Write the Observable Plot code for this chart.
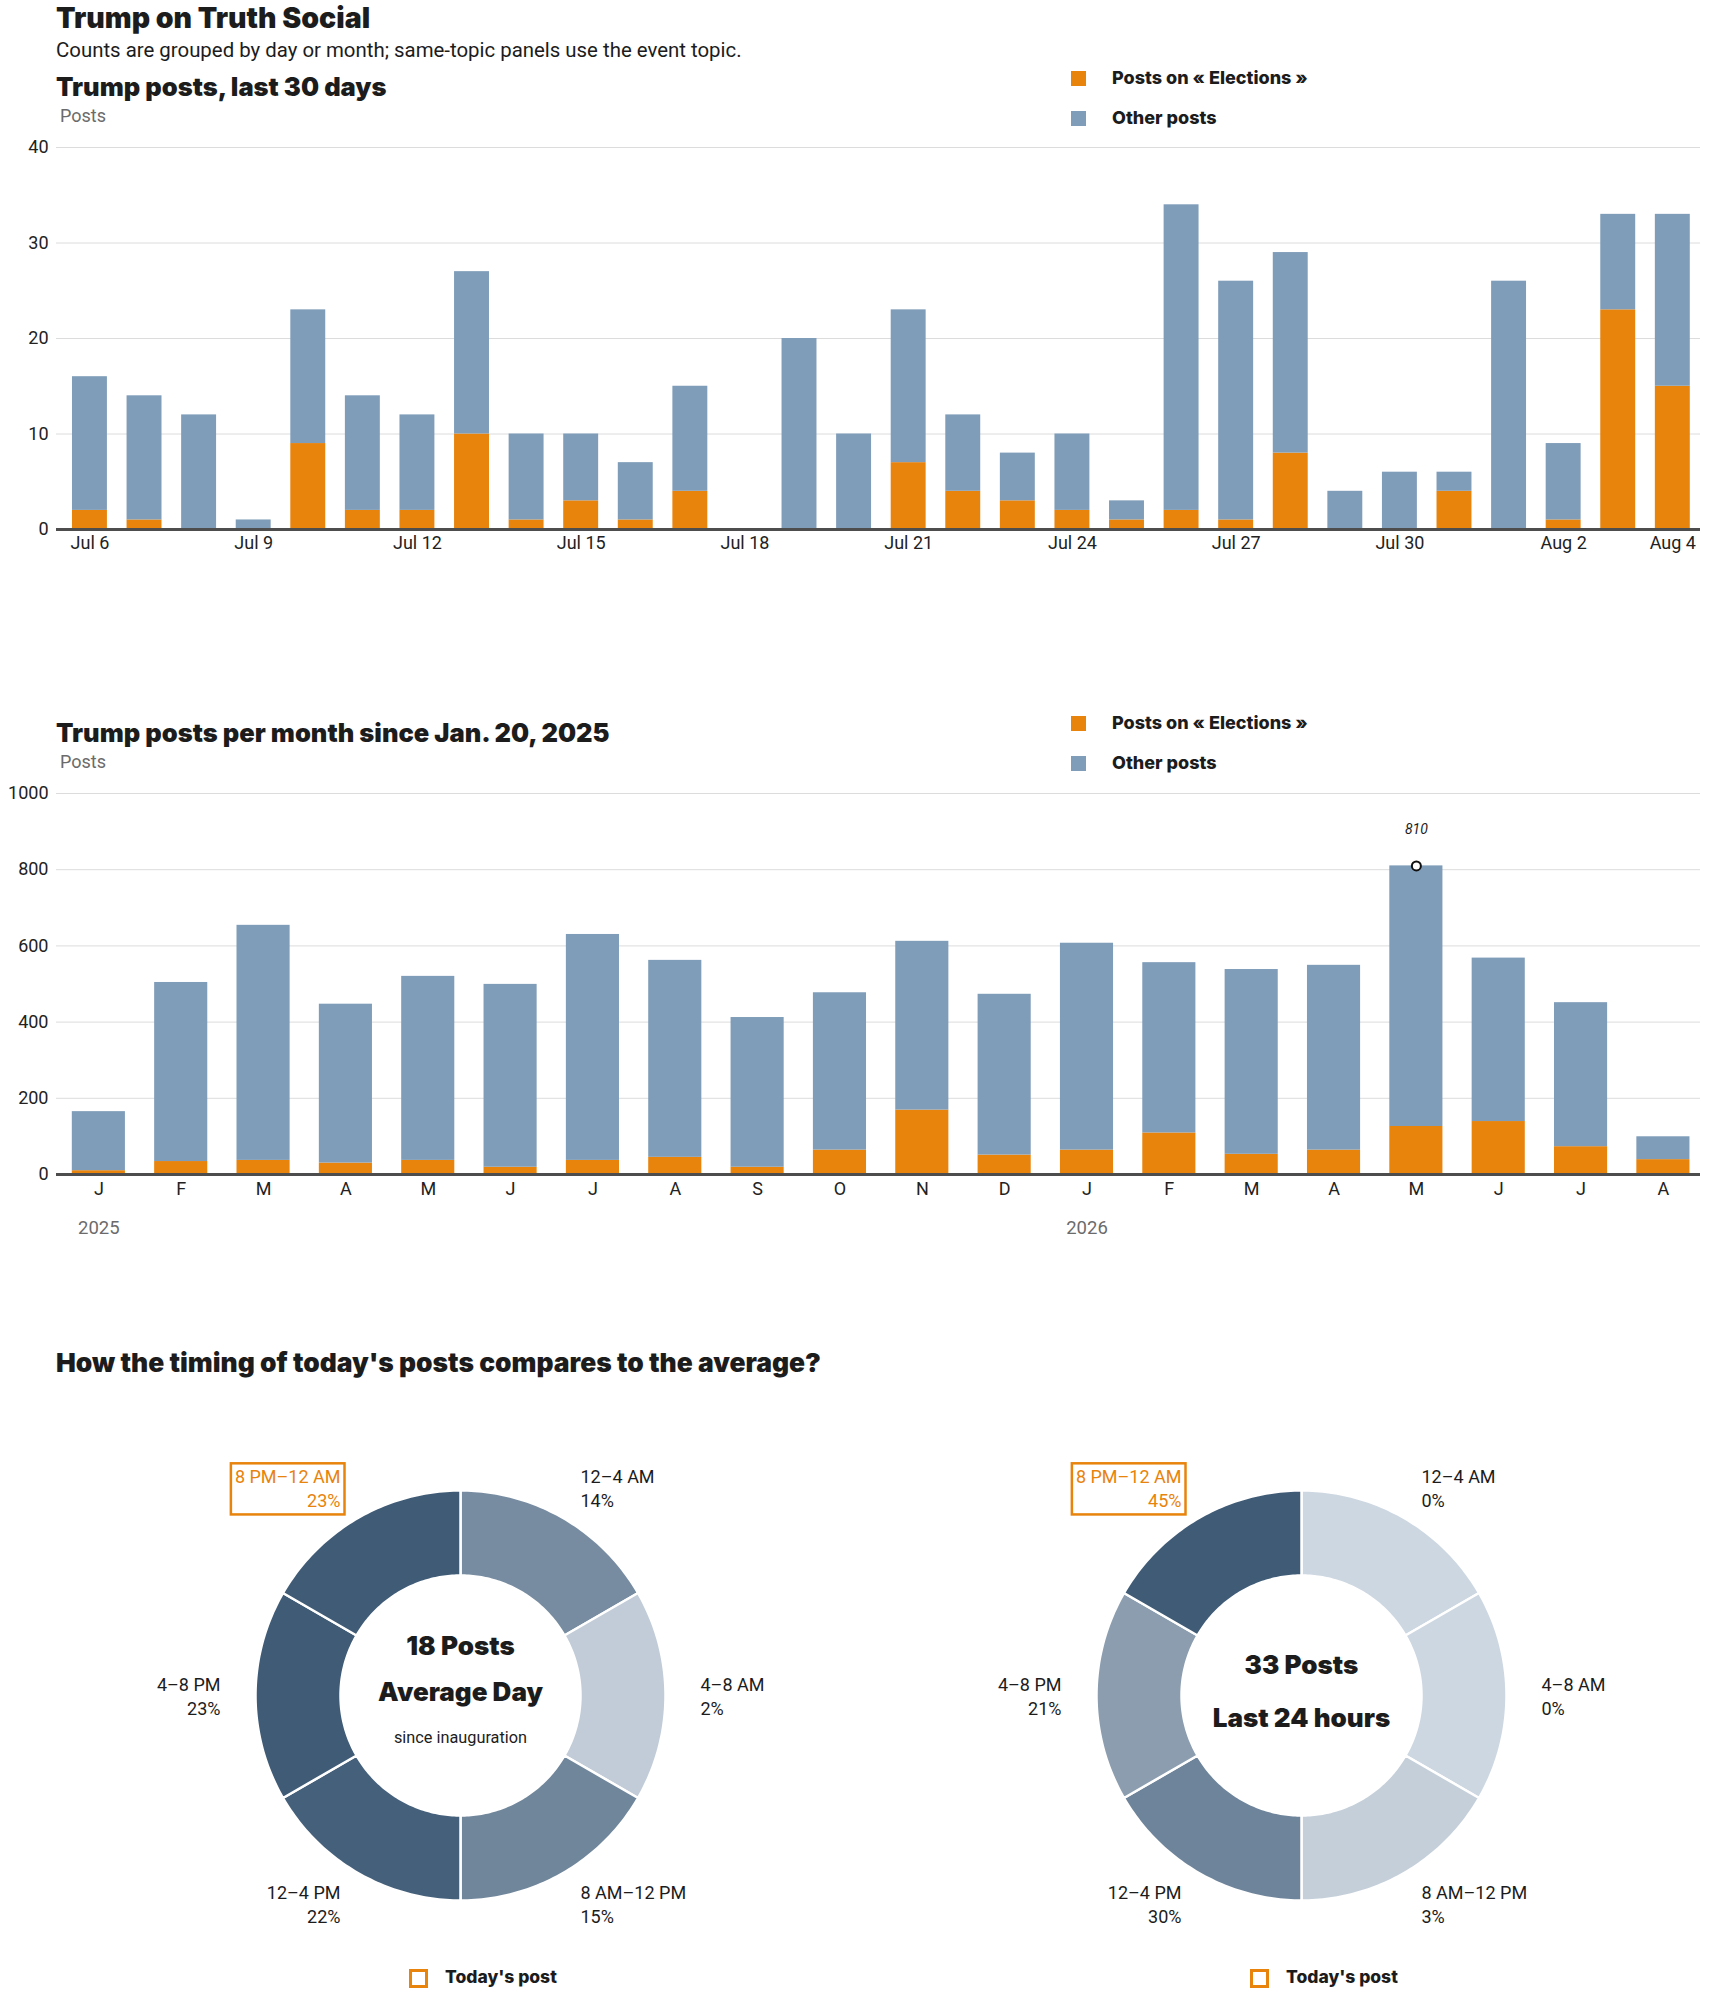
<!DOCTYPE html>
<html>
<head>
<meta charset="utf-8">
<script src="https://cdn.jsdelivr.net/npm/d3@7"></script>
<script src="https://cdn.jsdelivr.net/npm/@observablehq/plot@0.6"></script>
<style>
  body { margin: 0; background: #fff; font-family: Roboto, "Noto Sans", sans-serif; color: #1c1c1c; }
  #page { position: relative; width: 1710px; height: 1993px; overflow: hidden; background: #fff; }
  .abs { position: absolute; white-space: nowrap; }
  .sw { position: absolute; width: 15px; height: 15px; }
  .hollow { position: absolute; width: 19px; height: 19px; box-sizing: border-box; border: 3px solid #e8830c; }
  svg { position: absolute; left: 0; }
</style>
</head>
<body>
<div id="page"></div>
<script>
// ---------------- DATA ----------------
const SERIES = ["Posts on « Elections »", "Other posts"];

const days = ["Jul 6","Jul 7","Jul 8","Jul 9","Jul 10","Jul 11","Jul 12","Jul 13","Jul 14","Jul 15",
  "Jul 16","Jul 17","Jul 18","Jul 19","Jul 20","Jul 21","Jul 22","Jul 23","Jul 24","Jul 25",
  "Jul 26","Jul 27","Jul 28","Jul 29","Jul 30","Jul 31","Aug 1","Aug 2","Aug 3","Aug 4"];
const dayElection = [2,1,0,0,9,2,2,10,1,3, 1,4,0,0,0,7,4,3,2,1, 2,1,8,0,0,4,0,1,23,15];
const dayOther    = [14,13,12,1,14,12,10,17,9,7, 6,11,0,20,10,16,8,5,8,2, 32,25,21,4,6,2,26,8,10,18];
const dayTicks = ["Jul 6","Jul 9","Jul 12","Jul 15","Jul 18","Jul 21","Jul 24","Jul 27","Jul 30","Aug 2","Aug 4"];
const dayYTicks = [0,10,20,30,40];

const months = ["Jan 2025","Feb 2025","Mar 2025","Apr 2025","May 2025","Jun 2025","Jul 2025","Aug 2025",
  "Sep 2025","Oct 2025","Nov 2025","Dec 2025","Jan 2026","Feb 2026","Mar 2026","Apr 2026","May 2026",
  "Jun 2026","Jul 2026","Aug 2026"];
const monthElection = [10,34,37,30,37,19,37,45,19,64,169,51,64,109,53,64,126,139,73,39];
const monthOther    = [155,470,617,417,483,480,593,517,393,413,443,422,543,447,485,485,684,429,378,60];
const monthYTicks = [0,200,400,600,800,1000];

const timeSlots  = ["12–4 AM","4–8 AM","8 AM–12 PM","12–4 PM","4–8 PM","8 PM–12 AM"];
const avgShare   = [14,2,15,22,23,23];
const todayShare = [0,0,3,30,21,45];
const todaySlot  = "8 PM–12 AM";
const avgCenter   = ["18 Posts","Average Day"];
const avgNote     = "since inauguration";
const todayCenter = ["33 Posts","Last 24 hours"];

// ---------------- STYLE ----------------
const ORANGE = "#e8830c", BLUE = "#7f9db9", DARK = "#1c1c1c", GRAY = "#6b6b6b", GRID = "#dcdcdc";
const REG = "Roboto, 'Noto Sans', sans-serif";
const HEAVY = "Inter, Roboto, sans-serif";
const page = document.getElementById("page");
const ctx = document.createElement("canvas").getContext("2d");

function txt(str, x, baseline, size, weight, color, family = REG) {
  const font = `${weight} ${size}px ${family}`;
  ctx.font = font;
  const m = ctx.measureText(str);
  const asc = m.fontBoundingBoxAscent || size * 0.93, desc = m.fontBoundingBoxDescent || size * 0.25;
  const d = document.createElement("div");
  d.className = "abs";
  d.textContent = str;
  Object.assign(d.style, {
    left: x + "px", top: Math.max(0, baseline - asc) + "px", font: font, lineHeight: (asc + desc) + "px", color: color
  });
  page.appendChild(d);
  return d;
}
function swatch(x, y, color) {
  const s = document.createElement("div");
  s.className = "sw";
  Object.assign(s.style, {left: x + "px", top: y + "px", background: color});
  page.appendChild(s);
}
function legend(y0) {
  swatch(1071, y0, ORANGE);
  txt(SERIES[0], 1112, y0 + 13, 18, 800, DARK, HEAVY);
  swatch(1071, y0 + 40, BLUE);
  txt(SERIES[1], 1112, y0 + 53, 18, 800, DARK, HEAVY);
}
function place(svg, top) { svg.style.top = top + "px"; page.appendChild(svg); return svg; }

const baseStyle = {fontFamily: REG, fontSize: "18px", color: DARK, background: "transparent", overflow: "visible"};

// ---------------- HEADER ----------------
txt("Trump on Truth Social", 56, 28, 28.5, 900, DARK, HEAVY);
txt("Counts are grouped by day or month; same-topic panels use the event topic.", 56, 57, 20.4, 400, DARK);

// ---------------- PANEL 1 ----------------
txt("Trump posts, last 30 days", 56, 96, 25.5, 900, DARK, HEAVY);
txt("Posts", 60, 122, 18, 400, GRAY);
legend(71);

const data30 = days.flatMap((d, i) => [
  {day: d, series: SERIES[0], value: dayElection[i]},
  {day: d, series: SERIES[1], value: dayOther[i]}
]);

place(Plot.plot({
  width: 1710, height: 430, marginTop: 17, marginBottom: 31, marginLeft: 56, marginRight: 10,
  style: baseStyle,
  x: {type: "band", domain: days, range: [56, 1700], paddingInner: 0.36, paddingOuter: 0.24, align: 0.61, round: false, label: null},
  y: {domain: [0, 40], label: null},
  color: {domain: SERIES, range: [ORANGE, BLUE]},
  marks: [
    Plot.gridY(dayYTicks.slice(1), {stroke: GRID, strokeOpacity: 1}),
    Plot.axisY({ticks: dayYTicks, tickSize: 0, tickPadding: 8, label: null, fontSize: 18, fill: "#222"}),
    Plot.axisX({ticks: dayTicks, tickSize: 0, tickPadding: 7, label: null, fontSize: 18, fill: "#222"}),
    Plot.barY(data30, {x: "day", y: "value", fill: "series"}),
    Plot.ruleY([0], {stroke: "#4d4d4d", strokeWidth: 3})
  ]
}), 130);

// ---------------- PANEL 2 ----------------
txt("Trump posts per month since Jan. 20, 2025", 56, 742, 25.5, 900, DARK, HEAVY);
txt("Posts", 60, 768, 18, 400, GRAY);
legend(716);

const dataM = months.flatMap((m, i) => [
  {month: m, series: SERIES[0], value: monthElection[i]},
  {month: m, series: SERIES[1], value: monthOther[i]}
]);
const totals = months.map((m, i) => ({month: m, total: monthElection[i] + monthOther[i]}));
const peak = [totals.reduce((a, b) => (b.total > a.total ? b : a))];
const yearStarts = months.filter(m => m.startsWith("Jan")).map(m => ({month: m, year: m.slice(4)}));

place(Plot.plot({
  width: 1710, height: 470, marginTop: 13, marginBottom: 76, marginLeft: 56, marginRight: 10,
  style: baseStyle,
  x: {type: "band", domain: months, range: [56, 1700], paddingInner: 0.355, paddingOuter: 0.16, align: 0.6, round: false, label: null},
  y: {domain: [0, 1000], label: null},
  color: {domain: SERIES, range: [ORANGE, BLUE]},
  marks: [
    Plot.gridY(monthYTicks.slice(1), {stroke: GRID, strokeOpacity: 1}),
    Plot.axisY({ticks: monthYTicks, tickFormat: d => String(d), tickSize: 0, tickPadding: 8, label: null, fontSize: 18, fill: "#222"}),
    Plot.axisX({tickSize: 0, tickPadding: 8, label: null, fontSize: 18, fill: "#222", tickFormat: d => d[0]}),
    Plot.barY(dataM, {x: "month", y: "value", fill: "series"}),
    Plot.ruleY([0], {stroke: "#4d4d4d", strokeWidth: 3}),
    Plot.text(yearStarts, {x: "month", frameAnchor: "bottom", text: "year", dy: 59, lineAnchor: "bottom", fontSize: 18.5, fill: GRAY}),
    Plot.dot(peak, {x: "month", y: "total", r: 4.5, stroke: "#111", strokeWidth: 2, fill: "white"}),
    Plot.text(peak, {x: "month", y: "total", text: d => String(d.total), dy: -36, fontSize: 14, fontStyle: "italic", fill: DARK})
  ]
}), 780);

// ---------------- PANEL 3: DONUTS ----------------
txt("How the timing of today's posts compares to the average?", 56, 1372, 26.4, 900, DARK, HEAVY);

const W = 1710, H = 613, CY = 315, R0 = 120, R1 = 205, RL = 240, N = 60;
const donuts = [
  {id: "avg", cx: 460, shares: avgShare},
  {id: "today", cx: 1301, shares: todayShare}
];
const ring = [], labels = [];
donuts.forEach(dn => {
  const mx = d3.max(dn.shares);
  timeSlots.forEach((slot, i) => {
    const a0 = i * Math.PI / 3, a1 = (i + 1) * Math.PI / 3;
    const t = mx ? dn.shares[i] / mx : 0;
    const key = dn.id + "-" + i;
    for (let k = 0; k <= N; k++) {
      const a = a0 + (a1 - a0) * k / N;
      ring.push({key, t, x: dn.cx + R1 * Math.sin(a), y: CY - R1 * Math.cos(a)});
    }
    for (let k = N; k >= 0; k--) {
      const a = a0 + (a1 - a0) * k / N;
      ring.push({key, t, x: dn.cx + R0 * Math.sin(a), y: CY - R0 * Math.cos(a)});
    }
    const am = (i + 0.5) * Math.PI / 3;
    labels.push({
      x: dn.cx + RL * Math.sin(am), y: CY - RL * Math.cos(am),
      text: slot + "\n" + dn.shares[i] + "%",
      side: Math.sin(am) > 0 ? "right" : "left",
      hl: slot === todaySlot
    });
  });
});
const centerBold = [
  {x: donuts[0].cx, y: CY - 49, text: avgCenter[0]},
  {x: donuts[0].cx, y: CY - 3, text: avgCenter[1]},
  {x: donuts[1].cx, y: CY - 30, text: todayCenter[0]},
  {x: donuts[1].cx, y: CY + 23, text: todayCenter[1]}
];
const centerNote = [{x: donuts[0].cx, y: CY + 42, text: avgNote}];

const labelOpts = {x: "x", y: "y", text: "text", lineAnchor: "middle", lineHeight: 1.34, fontSize: 18};
const donutSvg = place(Plot.plot({
  width: W, height: H, margin: 0,
  style: baseStyle,
  x: {domain: [0, W], range: [0, W], axis: null},
  y: {domain: [0, H], range: [0, H], axis: null},
  color: {type: "linear", domain: [0, 1], range: ["#cdd7e1", "#3f5b76"], interpolate: "rgb"},
  marks: [
    Plot.line(ring, {x: "x", y: "y", z: "key", fill: "t", stroke: "white", strokeWidth: 2.5, curve: "linear-closed"}),
    Plot.text(labels.filter(d => d.side === "right"), {...labelOpts, textAnchor: "start", fill: DARK}),
    Plot.text(labels.filter(d => d.side === "left" && !d.hl), {...labelOpts, textAnchor: "end", fill: DARK}),
    Plot.text(labels.filter(d => d.hl), {...labelOpts, textAnchor: "end", fill: ORANGE}),
    Plot.text(centerBold, {x: "x", y: "y", text: "text", fontSize: 26, fontWeight: 900, fontFamily: HEAVY, fill: DARK}),
    Plot.text(centerNote, {x: "x", y: "y", text: "text", fontSize: 16.3, fill: DARK})
  ]
}), 1380);

// orange frame around the highlighted label (measured from the rendered text)
const svgBox = donutSvg.getBoundingClientRect();
donutSvg.querySelectorAll("g").forEach(g => {
  if (g.getAttribute("fill") === ORANGE) {
    g.querySelectorAll("text").forEach(t => {
      const b = t.getBoundingClientRect();
      const r = document.createElementNS("http://www.w3.org/2000/svg", "rect");
      r.setAttribute("x", b.left - svgBox.left - 4);
      r.setAttribute("y", b.top - svgBox.top - 3);
      r.setAttribute("width", b.width + 8);
      r.setAttribute("height", b.height + 6);
      r.setAttribute("fill", "none");
      r.setAttribute("stroke", ORANGE);
      r.setAttribute("stroke-width", 2.5);
      donutSvg.appendChild(r);
    });
  }
});

// "Today's post" keys
[[409, 445], [1250, 1286]].forEach(([sx, tx]) => {
  const h = document.createElement("div");
  h.className = "hollow";
  Object.assign(h.style, {left: sx + "px", top: "1969px"});
  page.appendChild(h);
  txt("Today's post", tx, 1983, 17.5, 800, DARK, HEAVY);
});
</script>
</body>
</html>
